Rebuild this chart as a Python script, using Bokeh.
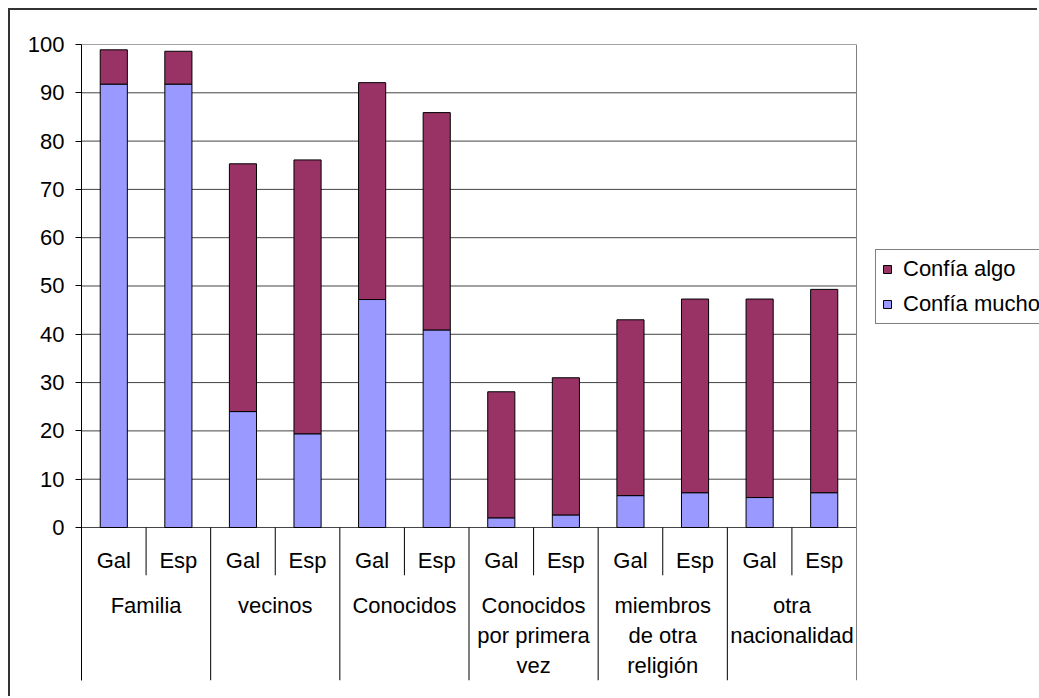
from bokeh.plotting import figure
from bokeh.models import (Range1d, FixedTicker, ColumnDataSource, Legend,
                          LegendItem)
from bokeh.core.properties import value
from bokeh.embed import file_html
from bokeh.resources import INLINE

# Trust levels by group and region (percent of respondents)
groups = ["Familia", "vecinos", "Conocidos", "Conocidos\npor primera\nvez",
          "miembros\nde otra\nreligión", "otra\nnacionalidad"]
regions = ["Gal", "Esp"]
mucho = [91.8, 91.8, 24.0, 19.4, 47.2, 40.9, 2.0, 2.6, 6.6, 7.2, 6.2, 7.2]
algo = [7.1, 6.8, 51.3, 56.7, 44.9, 45.0, 26.1, 28.4, 36.4, 40.1, 41.1, 42.1]
y_ticks = list(range(0, 101, 10))

FONT = value("Liberation Sans")
FSIZE = "22px"
C_MUCHO = "#9999FF"
C_ALGO = "#993366"

# Canvas geometry: the chart sits inside a framed area offset from the page.
OFFSET = 10
WIDTH, HEIGHT = 1039 - OFFSET, 698 - OFFSET
LEFT, TOP, BOTTOM = 81 - OFFSET, 44 - OFFSET, 18
PLOT_W = 775  # width in px of the bar area

# Vertical layout (data units): the frame reaches below zero to hold the
# two-level category labels.
Y_BOTTOM = -31.68
SUB_Y = -6.9
SUB_DIV = -9.9
GROUP_Y = -13.5

n_groups = len(groups)
n_bars = n_groups * len(regions)
xs = [i + 0.5 for i in range(n_bars)]
sub_labels = [r for _ in groups for r in regions]
group_x = [2 * g + 1 for g in range(n_groups)]

src = ColumnDataSource(dict(x=xs, mucho=mucho, algo=algo))

x_end = n_bars * (WIDTH - LEFT) / PLOT_W
p = figure(width=WIDTH, height=HEIGHT, x_range=Range1d(0, x_end),
           y_range=Range1d(Y_BOTTOM, 100), output_backend="svg",
           toolbar_location=None, x_axis_location=None,
           min_border_left=LEFT, min_border_right=0, min_border_top=TOP,
           min_border_bottom=BOTTOM)
p.styles = {"margin-left": "8px", "margin-top": "8px",
            "border-left": "2px solid #333333",
            "border-top": "2px solid #333333"}
p.outline_line_color = None
p.background_fill_color = "white"
p.border_fill_color = "white"
p.xgrid.visible = False
p.ygrid.visible = False

# Horizontal gridlines limited to the bar area
p.segment(x0=0, y0=y_ticks, x1=n_bars, y1=y_ticks,
          line_color="#444444", line_width=1)

ax = p.yaxis[0]
ax.ticker = FixedTicker(ticks=y_ticks)
ax.axis_line_color = "black"
ax.axis_line_width = 1
ax.major_tick_line_color = "black"
ax.major_tick_out = 6
ax.major_tick_in = 0
ax.minor_tick_line_color = None
ax.major_label_standoff = 11
ax.major_label_text_font = "Liberation Sans"
ax.major_label_text_font_size = FSIZE
ax.major_label_text_color = "black"

rs = p.vbar_stack(["mucho", "algo"], x="x", width=0.42, source=src,
                  fill_color=[C_MUCHO, C_ALGO], line_color="black",
                  line_width=1)

# Category dividers below the zero line
sub_div_x = [2 * g + 1 for g in range(n_groups)]
grp_div_x = [2 * g for g in range(1, n_groups)]
p.segment(x0=sub_div_x, y0=0, x1=sub_div_x, y1=SUB_DIV,
          line_color="black", line_width=1)
p.segment(x0=grp_div_x, y0=0, x1=grp_div_x, y1=Y_BOTTOM,
          line_color="black", line_width=1)
p.segment(x0=[n_bars], y0=[100], x1=[n_bars], y1=[Y_BOTTOM],
          line_color="#808080", line_width=1)

p.text(x=xs, y=SUB_Y, text=sub_labels, text_align="center",
       text_baseline="middle", text_font=FONT, text_font_size=FSIZE,
       text_color="black")
p.text(x=group_x, y=GROUP_Y, text=groups, text_align="center",
       text_baseline="top", text_font=FONT, text_font_size=FSIZE,
       text_color="black", text_line_height=1.2)

legend = Legend(items=[LegendItem(label="Confía algo", renderers=[rs[1]]),
                       LegendItem(label="Confía mucho", renderers=[rs[0]])],
                location=(794, 356))
legend.border_line_color = "black"
legend.border_line_width = 1
legend.background_fill_color = "white"
legend.label_text_font = "Liberation Sans"
legend.label_text_font_size = FSIZE
legend.label_text_color = "black"
legend.glyph_width = 10
legend.glyph_height = 10
legend.label_standoff = 11
legend.label_width = 160
legend.padding = 6
legend.spacing = 9
legend.margin = 0
p.add_layout(legend)

open("out.html", "w").write(file_html(p, INLINE))
